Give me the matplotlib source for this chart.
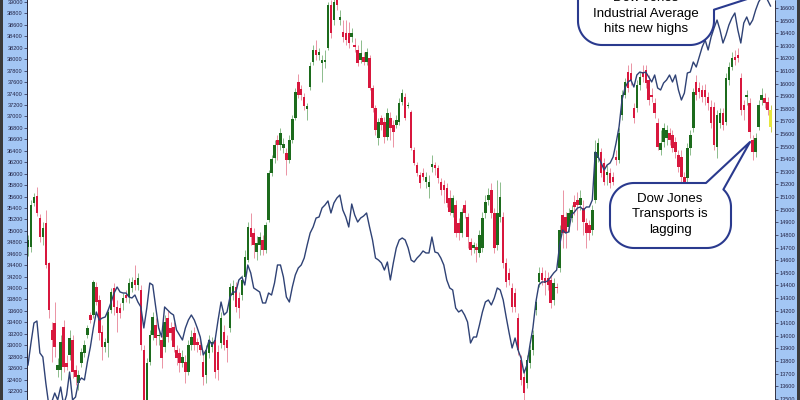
import matplotlib
matplotlib.use("Agg")
import matplotlib.pyplot as plt
import numpy as np
from matplotlib.patches import Rectangle, Polygon

# ---------------- data ----------------
# Dow Jones Transports daily candles (right-hand scale)
transports_open = [
    14704, 14704, 15053, 15109, 14934, 14784, 14895, 14577, 14046, 14102,
    13729, 13729, 14070, 13785, 13848, 13967, 13729, 13626, 13785, 13864,
    14007, 14165, 14165, 14387, 14284, 14030, 13911, 13943, 14205, 14379,
    14229, 14221, 14260, 14324, 14308, 14379, 14443, 14403, 14363, 13888,
    13475, 13792, 14007, 14086, 13999, 13967, 13911, 14141, 14062, 14070,
    13888, 13864, 13785, 13792, 13713, 13927, 14022, 13951, 13927, 13792,
    13689, 13864, 13911, 13967, 13872, 13943, 14030, 13967, 14062, 14324,
    14387, 14300, 14324, 14466, 14601, 14855, 14815, 14665, 14720, 14760,
    14681, 14918, 15291, 15410, 15553, 15513, 15489, 15450, 15394, 15553,
    15727, 16013, 15957, 15894, 15799, 15973, 16171, 16267, 16227, 16163,
    16171, 16282, 16623, 16504, 16680, 16504, 16409, 16401, 16401, 16370,
    16306, 16267, 16187, 16211, 16171, 16203, 15965, 15807, 15569, 15727,
    15696, 15577, 15727, 15672, 15672, 15696, 15854, 15894, 15822, 15775,
    15474, 15355, 15275, 15291, 15220, 15180, 15339, 15355, 15331, 15220,
    15196, 15172, 15093, 14974, 15037, 14895, 14815, 15037, 14942, 14744,
    14696, 14704, 14657, 14696, 14974, 15077, 15156, 14974, 14720, 14942,
    14942, 14577, 14498, 14379, 14340, 14141, 13808, 13673, 13626, 13785,
    13888, 14205, 14427, 14498, 14458, 14458, 14443, 14284, 14387, 14538,
    14958, 14942, 14863, 14934, 15061, 15077, 15037, 15014, 14895, 14879,
    14839, 15077, 15410, 15458, 15370, 15275, 15291, 15260, 15418, 15394,
    15751, 15910, 16092, 16084, 15807, 15807, 15989, 16092, 16108, 16029,
    15910, 15846, 15688, 15474, 15537, 15569, 15608, 15592, 15537, 15434,
    15418, 15260, 15252, 15489, 15648, 16013, 15965, 15949, 15949, 15894,
    15814, 15814, 15497, 15688, 15767, 15696, 16029, 16132, 16211, 16227,
    16044, 15830, 15894, 15846, 15553, 15458, 15656, 15870, 15886, 15854,
    15791,
]
transports_high = [
    14800, 15077, 15133, 15180, 14966, 14903, 14998, 14585, 14110, 14268,
    13824, 14007, 14126, 13848, 14046, 14007, 13769, 13729, 13903, 13967,
    14086, 14189, 14443, 14427, 14324, 14086, 13983, 14221, 14379, 14419,
    14284, 14260, 14340, 14363, 14458, 14466, 14562, 14498, 14403, 13927,
    13824, 14046, 14189, 14141, 14062, 14007, 14165, 14205, 14110, 14110,
    13927, 13903, 13888, 13848, 13967, 14046, 14070, 13983, 13967, 13888,
    13927, 14007, 13991, 14007, 13927, 14189, 14086, 14007, 14419, 14443,
    14427, 14347, 14482, 14681, 14903, 14974, 14855, 14792, 14823, 14799,
    14903, 15315, 15434, 15553, 15592, 15648, 15569, 15489, 15592, 15751,
    15965, 16076, 15989, 15926, 15846, 16171, 16306, 16346, 16282, 16227,
    16267, 16647, 16663, 16720, 16730, 16584, 16504, 16504, 16489, 16441,
    16362, 16306, 16346, 16251, 16282, 16227, 15989, 15830, 15727, 15751,
    15735, 15807, 15775, 15711, 15751, 15886, 15957, 15926, 15854, 15791,
    15497, 15378, 15299, 15331, 15299, 15275, 15434, 15378, 15355, 15252,
    15236, 15212, 15156, 15117, 15077, 14934, 15014, 15077, 14974, 14776,
    14744, 14736, 14839, 14982, 15117, 15172, 15212, 15014, 15236, 15220,
    14982, 14617, 14538, 14419, 14379, 14181, 13848, 13729, 13848, 13927,
    14046, 14300, 14546, 14546, 14522, 14506, 14482, 14458, 14419, 14879,
    15156, 14982, 15014, 15037, 15117, 15140, 15156, 15077, 14934, 14918,
    15037, 15553, 15569, 15489, 15410, 15355, 15331, 15299, 15474, 15648,
    15949, 16044, 16148, 16163, 15846, 16029, 16092, 16148, 16148, 16068,
    15965, 15886, 15727, 15632, 15688, 15672, 15648, 15632, 15577, 15474,
    15474, 15299, 15529, 15632, 15965, 16068, 16013, 15989, 15997, 15933,
    15870, 15854, 15791, 15807, 15807, 16084, 16171, 16251, 16267, 16282,
    16084, 15870, 15949, 15886, 15592, 15608, 15870, 15965, 15926, 15894,
    15830,
]
transports_low = [
    14633, 14665, 15029, 14950, 14744, 14720, 14538, 14141, 13792, 13832,
    13673, 13650, 13713, 13729, 13808, 13666, 13610, 13570, 13753, 13832,
    13983, 14102, 14141, 14244, 13967, 13808, 13872, 13832, 14181, 14165,
    14030, 14141, 14205, 14268, 14260, 14347, 14363, 14363, 13888, 13412,
    13412, 13769, 13967, 13927, 13927, 13745, 13872, 13951, 13967, 13872,
    13769, 13713, 13753, 13626, 13689, 13888, 13888, 13872, 13848, 13610,
    13626, 13824, 13872, 13666, 13650, 13903, 13888, 13792, 14030, 14284,
    14189, 14141, 14284, 14427, 14585, 14720, 14617, 14601, 14641, 14641,
    14657, 14903, 15267, 15370, 15394, 15474, 15450, 15275, 15370, 15529,
    15711, 15886, 15870, 15791, 15711, 15949, 16148, 16187, 16187, 16013,
    16124, 16267, 16362, 16465, 16584, 16465, 16330, 16306, 16282, 16330,
    16251, 16140, 16163, 16148, 16148, 15949, 15775, 15592, 15513, 15632,
    15529, 15553, 15553, 15497, 15648, 15672, 15830, 15711, 15807, 15474,
    15355, 15267, 15172, 15236, 15172, 15093, 15299, 15275, 15212, 15117,
    15053, 15021, 14958, 14942, 14784, 14760, 14784, 14934, 14696, 14641,
    14657, 14585, 14625, 14665, 14934, 15037, 14934, 14657, 14681, 14903,
    14538, 14387, 14403, 14189, 14189, 13848, 13610, 13475, 13586, 13745,
    13848, 14165, 14387, 14403, 14324, 14363, 14221, 14244, 14340, 14506,
    14696, 14696, 14823, 14903, 14958, 14839, 14998, 14799, 14696, 14760,
    14799, 15053, 15378, 15260, 15196, 15196, 15172, 15196, 15355, 15370,
    15711, 15886, 15933, 15989, 15688, 15775, 15949, 16013, 15965, 15830,
    15854, 15727, 15474, 15434, 15497, 15513, 15513, 15458, 15410, 15299,
    15220, 15196, 15220, 15434, 15616, 15870, 15886, 15854, 15830, 15791,
    15648, 15474, 15410, 15648, 15632, 15672, 15989, 16108, 16148, 16171,
    15751, 15711, 15830, 15569, 15394, 15418, 15632, 15830, 15807, 15751,
    15616,
]
transports_close = [
    14760, 15037, 15101, 14974, 14784, 14855, 14562, 14205, 13967, 13911,
    13769, 13951, 13753, 13753, 13983, 13713, 13673, 13689, 13872, 13927,
    14062, 14126, 14427, 14268, 14022, 13911, 13951, 14189, 14347, 14229,
    14181, 14181, 14300, 14300, 14419, 14427, 14403, 14458, 13927, 13475,
    13785, 14007, 14149, 13983, 14007, 13824, 14110, 13991, 14022, 13911,
    13824, 13785, 13832, 13713, 13927, 13991, 13927, 13927, 13888, 13673,
    13888, 13967, 13951, 13713, 13729, 14141, 13927, 13903, 14387, 14395,
    14229, 14221, 14443, 14625, 14863, 14784, 14720, 14736, 14784, 14681,
    14879, 15291, 15402, 15513, 15513, 15608, 15521, 15394, 15553, 15719,
    15933, 15910, 15910, 15822, 15822, 16140, 16267, 16227, 16251, 16187,
    16187, 16623, 16401, 16650, 16623, 16528, 16370, 16346, 16322, 16401,
    16290, 16163, 16243, 16171, 16251, 15965, 15807, 15632, 15696, 15672,
    15577, 15767, 15648, 15616, 15711, 15846, 15926, 15727, 15830, 15489,
    15370, 15291, 15212, 15260, 15260, 15220, 15362, 15331, 15252, 15156,
    15156, 15053, 14982, 15093, 14815, 14815, 14982, 14974, 14784, 14681,
    14720, 14681, 14799, 14934, 15061, 15117, 14974, 14696, 14974, 15101,
    14577, 14427, 14443, 14229, 14229, 13888, 13650, 13547, 13808, 13888,
    14007, 14268, 14498, 14443, 14419, 14403, 14260, 14419, 14379, 14839,
    14815, 14815, 14974, 14998, 15021, 15037, 15093, 14903, 14815, 14815,
    14998, 15458, 15529, 15291, 15220, 15299, 15212, 15220, 15394, 15608,
    15910, 16013, 15965, 16029, 15727, 15989, 16052, 16052, 16005, 15870,
    15894, 15767, 15497, 15529, 15648, 15632, 15553, 15489, 15458, 15339,
    15260, 15220, 15489, 15592, 15933, 15910, 15933, 15894, 15894, 15846,
    15688, 15513, 15751, 15767, 15672, 16044, 16132, 16203, 16187, 16203,
    15791, 15791, 15910, 15616, 15458, 15569, 15830, 15910, 15846, 15791,
    15656,
]
# Dow Jones Industrial Average daily closes (left-hand scale)
djia_close = [
    32655, 33039, 33389, 33424, 32865, 32795, 32340, 31956, 32008, 32165,
    32043, 32270, 31956, 32130, 32532, 32043, 32095, 32358, 32428, 32393,
    32707, 32969, 33302, 33581, 33441, 33476, 33494, 33616, 33756, 33913,
    34018, 33931, 33913, 33913, 33843, 33826, 33878, 33756, 33669, 33302,
    33651, 34088, 34053, 33669, 33302, 33144, 33669, 33616, 33564, 33529,
    33267, 33179, 33092, 33302, 33441, 33529, 33441, 33302, 33144, 32830,
    32917, 33092, 33004, 33092, 33441, 33756, 33529, 33581, 33843, 33931,
    33931, 34141, 34193, 34053, 34403, 34263, 34001, 33966, 33931, 33739,
    33739, 33913, 33878, 34088, 34403, 34403, 34193, 33843, 33756, 34018,
    34228, 34350, 34403, 34525, 34752, 34962, 35067, 35224, 35242, 35399,
    35452, 35522, 35312, 35487, 35574, 35626, 35364, 35242, 35067, 35469,
    35277, 35154, 35224, 35259, 35312, 35067, 34840, 34525, 34490, 34438,
    34315, 34455, 34141, 34438, 34700, 34840, 34875, 34840, 34700, 34490,
    34455, 34525, 34578, 34648, 34613, 34613, 34892, 34630, 34613, 34525,
    34403, 34141, 34001, 33966, 33651, 33581, 33616, 33529, 33406, 33039,
    33144, 33144, 33354, 33581, 33756, 33791, 33704, 33826, 34001, 33966,
    33791, 33494, 33214, 32952, 33127, 32917, 32777, 32515, 32655, 33004,
    33302, 33756, 34053, 34106, 34106, 34123, 34193, 34263, 34315, 34752,
    35015, 34962, 34980, 35277, 35329, 35399, 35417, 35364, 35417, 35417,
    35539, 36378, 36291, 36186, 36063, 36151, 36186, 36291, 36535, 36815,
    37287, 37497, 37602, 37637, 37514, 37724, 37776, 37759, 37776, 37689,
    37602, 37724, 37497, 37462, 37584, 37637, 37724, 37602, 37724, 37462,
    37287, 37409, 37759, 37776, 37951, 37864, 38039, 38213, 38336, 38161,
    38388, 38546, 38685, 38511, 38283, 38423, 38598, 38720, 38808, 38511,
    38283, 38633, 38738, 38598, 38685, 38860, 39000, 39087, 39122, 39035,
    38930,
]
left_ticks = list(range(32200, 39001, 200))
right_ticks = list(range(13500, 16601, 100))
callout_top = ["Dow Jones", "Industrial Average", "hits new highs"]
callout_bottom = ["Dow Jones", "Transports is", "lagging"]

# ---------------- styling ----------------
W, H = 800, 400
GREEN = "#1c6b1c"
RED = "#d8173d"
YELLOW = "#e6e63c"
WICK_G = "#8cbc8c"
WICK_R = "#eb93a4"
LINE = "#2f4275"
NAVY = "#2a3a8e"
STRIP = "#a3c6f4"

plt.rcParams["font.family"] = ["Liberation Sans", "DejaVu Sans"]

fig = plt.figure(figsize=(8, 4), dpi=100)
fig.patch.set_facecolor("white")

ax_left_px, ax_right_px = 27, 775
ax = fig.add_axes([ax_left_px / W, 0, (ax_right_px - ax_left_px) / W, 1])
ax2 = ax.twinx()

n = len(transports_close)
x = np.arange(1, n + 1)
o = np.array(transports_open, float)
h = np.array(transports_high, float)
l = np.array(transports_low, float)
c = np.array(transports_close, float)

up = c >= o
body_cols = [GREEN if u else RED for u in up]
wick_cols = [WICK_G if u else WICK_R for u in up]
body_cols[-1] = YELLOW
wick_cols[-1] = "#c8c850"

ax.vlines(x, l, h, colors=wick_cols, linewidth=0.7, zorder=2)
ax.bar(x, np.maximum(np.abs(c - o), 9), bottom=np.minimum(o, c), width=0.84,
       color=body_cols, linewidth=0, zorder=3)

ax2.plot(x, djia_close, color=LINE, linewidth=1.0, zorder=4)

# scales
pitch = 2.97  # px per bar
first_px = 28
ax.set_xlim(1 - (first_px - ax_left_px) / pitch, 1 + (ax_right_px - first_px) / pitch)
ax.set_ylim(13491, 16663)
ax2.set_ylim(32043, 39035)

# ticks: candles on right, line on left
ax.yaxis.tick_right()
ax2.yaxis.tick_left()
ax.set_yticks(right_ticks)
ax.set_yticklabels([str(t) for t in right_ticks])
ax2.set_yticks(left_ticks)
ax2.set_yticklabels([str(t) for t in left_ticks])
ax.tick_params(axis="y", labelsize=4, length=2, width=0.5, pad=1, colors="#222244")
ax2.tick_params(axis="y", labelsize=4, length=2, width=0.5, pad=1, colors="#222244")
ax.set_xticks([])
ax2.set_xticks([])

for a in (ax, ax2):
    for s in a.spines.values():
        s.set_visible(False)
ax.spines["right"].set_visible(True)
ax.spines["right"].set_linestyle((0, (1, 1)))
ax.spines["right"].set_linewidth(0.7)
ax.spines["right"].set_color("#334")
ax2.spines["left"].set_visible(True)
ax2.spines["left"].set_linewidth(0.7)
ax2.spines["left"].set_color("#223")

# axis strips
fig.add_artist(Rectangle((0, 0), ax_left_px / W, 1, transform=fig.transFigure,
                         facecolor=STRIP, edgecolor="none", zorder=-2))
fig.add_artist(Rectangle((ax_right_px / W, 0), 1 - ax_right_px / W, 1,
                         transform=fig.transFigure, facecolor=STRIP,
                         edgecolor="none", zorder=-2))
fig.add_artist(Rectangle((0, 0), 2.5 / W, 1, transform=fig.transFigure,
                         facecolor="#3a3a3a", edgecolor="none", zorder=-1))
fig.add_artist(Rectangle((797 / W, 0), 3 / W, 1, transform=fig.transFigure,
                         facecolor="#3a3a3a", edgecolor="none", zorder=-1))


def bubble(x0, y0, x1, y1, r, base_a, tip, base_b):
    """Speech bubble path in pixel coords (y measured downward)."""
    pts = []
    arcs = [((x0 + r, y0 + r), 180, 270), ((x1 - r, y0 + r), 270, 360),
            ((x1 - r, y1 - r), 0, 90), ((x0 + r, y1 - r), 90, 180)]
    for k, ((cx, cy), a0, a1) in enumerate(arcs):
        for a in np.linspace(np.radians(a0), np.radians(a1), 24):
            pts.append((cx + r * np.cos(a), cy + r * np.sin(a)))
        ncx, ncy = arcs[(k + 1) % 4][0]
        na = np.radians(arcs[(k + 1) % 4][1])
        sx, sy = pts[-1]
        ex, ey = ncx + r * np.cos(na), ncy + r * np.sin(na)
        m = int(max(abs(ex - sx), abs(ey - sy)))
        for t in np.linspace(0, 1, max(m, 2))[1:-1]:
            pts.append((sx + (ex - sx) * t, sy + (ey - sy) * t))
    arr = np.array(pts)
    ia = int(np.argmin(np.hypot(arr[:, 0] - base_a[0], arr[:, 1] - base_a[1])))
    ib = int(np.argmin(np.hypot(arr[:, 0] - base_b[0], arr[:, 1] - base_b[1])))
    i1, i2 = sorted((ia, ib))
    new = pts[:i1 + 1] + [tip] + pts[i2:]
    fpts = [(px / W, 1 - py / H) for px, py in new]
    fig.add_artist(Polygon(fpts, closed=True, transform=fig.transFigure,
                           facecolor="white", edgecolor=NAVY, linewidth=1.5,
                           joinstyle="round", zorder=5))


bubble(578, -40, 714, 45, 24, (714, -12), (772, -9), (714, 10))
bubble(610, 183, 731, 248, 24, (706, 183), (750, 142), (724, 190))

for txt, yb in zip(callout_top, [1, 17, 32]):
    fig.text(646 / W, 1 - yb / H, txt, ha="center", va="baseline",
             fontsize=9.5, color="black", zorder=6)
for txt, yb in zip(callout_bottom, [202, 217, 233]):
    fig.text(670 / W, 1 - yb / H, txt, ha="center", va="baseline",
             fontsize=9.5, color="black", zorder=6)

fig.savefig("out.png", dpi=100)
